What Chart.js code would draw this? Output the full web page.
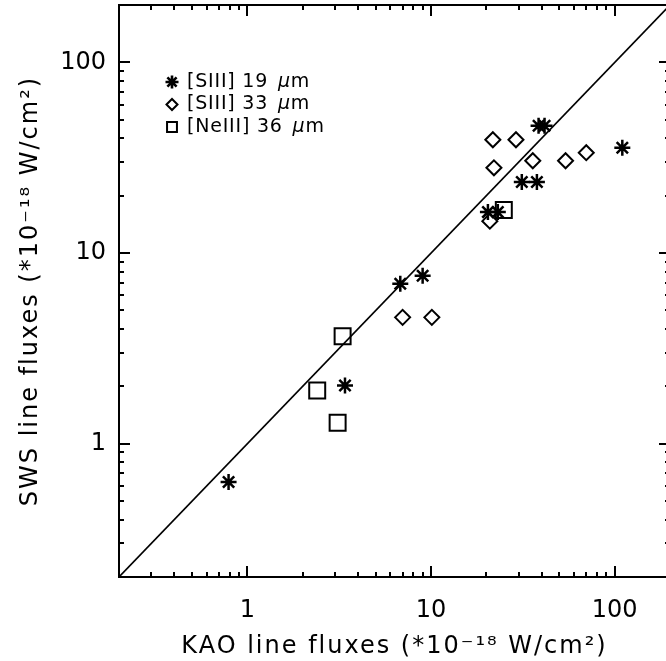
<!DOCTYPE html>
<html>
<head>
<meta charset="utf-8">
<script src="https://cdn.jsdelivr.net/npm/chart.js@4.4.1/dist/chart.umd.min.js"></script>
<style>
  html, body { margin: 0; padding: 0; background: #fff; overflow: hidden; }
  #fluxChart { display: block; }
</style>
</head>
<body>
<canvas id="fluxChart" width="680" height="661"></canvas>
<script>
// --- DATA ---
const siii19X = [0.79, 3.4, 6.8, 9.0, 20.4, 23.1, 31.2, 37.7, 110, 38.5, 41.5];
const siii19Y = [0.63, 2.02, 6.9, 7.6, 16.4, 16.4, 23.6, 23.6, 35.7, 46.5, 46.5];

const siii33X = [7.0, 10.1, 20.9, 22.0, 21.7, 29.0, 35.8, 54.0, 70.0];
const siii33Y = [4.6, 4.6, 14.7, 28.0, 39.3, 39.3, 30.5, 30.5, 33.6];

const neiii36X = [2.4, 3.1, 3.3, 24.9];
const neiii36Y = [1.9, 1.29, 3.66, 16.8];

const seriesLabels = ['[SIII] 19 μm', '[SIII] 33 μm', '[NeIII] 36 μm'];

const axisMin = 0.2;
const axisMax = 200;
const majorTicks = [1, 10, 100];
const minorTicks = [0.2, 0.3, 0.4, 0.5, 0.6, 0.7, 0.8, 0.9,
                    2, 3, 4, 5, 6, 7, 8, 9,
                    20, 30, 40, 50, 60, 70, 80, 90, 200];

const xTitle = 'KAO line fluxes (*10⁻¹⁸ W/cm²)';
const yTitle = 'SWS line fluxes (*10⁻¹⁸ W/cm²)';
// --- END DATA ---

const FONT = 'DejaVu Sans';
const toPoints = (xs, ys) => xs.map((x, i) => ({ x: x, y: ys[i] }));

// IDL style box: ticks inside on all four sides
const boxTicks = {
    id: 'boxTicks',
    afterDatasetsDraw(chart) {
        const ctx = chart.ctx;
        const a = chart.chartArea;
        const xs = chart.scales.x, ys = chart.scales.y;
        ctx.save();
        ctx.strokeStyle = '#000';
        ctx.lineWidth = 2;
        ctx.lineCap = 'butt';
        const mark = (vals, len) => {
            vals.forEach(v => {
                const px = Math.round(xs.getPixelForValue(v));
                const py = Math.round(ys.getPixelForValue(v));
                ctx.beginPath();
                ctx.moveTo(px, a.bottom); ctx.lineTo(px, a.bottom - len);
                ctx.moveTo(px, a.top); ctx.lineTo(px, a.top + len);
                ctx.moveTo(a.left, py); ctx.lineTo(a.left + len, py);
                ctx.moveTo(a.right, py); ctx.lineTo(a.right - len, py);
                ctx.stroke();
            });
        };
        mark(majorTicks, 11);
        mark(minorTicks.filter(v => v > axisMin && v < axisMax), 5);
        ctx.strokeRect(a.left, a.top, a.right - a.left, a.bottom - a.top);
        ctx.restore();
    }
};

// wider letter spacing on the axis titles, like the IDL font
const spacedTitles = {
    id: 'spacedTitles',
    afterLayout(chart) {
        Object.values(chart.scales).forEach(s => {
            if (s._spaced) return;
            const orig = s.drawTitle.bind(s);
            s.drawTitle = function () {
                const prev = this.ctx.letterSpacing;
                this.ctx.letterSpacing = '2px';
                orig();
                this.ctx.letterSpacing = prev || '0px';
            };
            s._spaced = true;
        });
    }
};

// legend drawn inside the plot, upper left
const innerLegend = {
    id: 'innerLegend',
    afterDraw(chart) {
        const ctx = chart.ctx;
        const a = chart.chartArea;
        const sizes = [6.5, 5.5, 7];
        const widths = [2.6, 2, 2];
        ctx.save();
        chart.data.datasets.forEach((ds, i) => {
            if (!ds.label) return;
            const y = a.top + 77 + i * 22.5;
            const x = a.left + 53;
            ctx.strokeStyle = '#000';
            ctx.fillStyle = 'rgba(0,0,0,0)';
            ctx.lineWidth = widths[i];
            Chart.helpers.drawPoint(ctx, {
                pointStyle: ds.pointStyle, radius: sizes[i], rotation: 0, borderWidth: widths[i]
            }, x, y);
            const parts = ds.label.split('μ');
            ctx.fillStyle = '#000';
            ctx.textBaseline = 'middle';
            ctx.letterSpacing = '0.8px';
            ctx.font = '19px "' + FONT + '"';
            let tx = x + 15;
            ctx.fillText(parts[0], tx, y);
            tx += ctx.measureText(parts[0]).width + 3;
            ctx.font = 'italic 19px "' + FONT + '"';
            ctx.fillText('μ', tx, y);
            tx += ctx.measureText('μ').width;
            ctx.font = '19px "' + FONT + '"';
            ctx.fillText(parts[1], tx, y);
        });
        ctx.restore();
    }
};

const logAxis = (pos, title, tickPad, titlePad) => ({
    type: 'logarithmic',
    position: pos,
    min: axisMin,
    max: axisMax,
    grid: { display: false },
    border: { display: false },
    afterBuildTicks: (axis) => { axis.ticks = majorTicks.map(v => ({ value: v })); },
    ticks: {
        autoSkip: false,
        maxRotation: 0,
        color: '#000',
        padding: tickPad,
        font: { family: FONT, size: 24 },
        callback: (v) => String(v)
    },
    title: {
        display: true,
        text: title,
        color: '#000',
        font: { family: FONT, size: 24 },
        padding: { top: titlePad, bottom: 0 }
    }
});

const xAxis = logAxis('bottom', xTitle, 11, 18);
xAxis.afterFit = (axis) => {
    axis.height = 84;
    axis.paddingLeft = 0; axis.paddingRight = 0;
};
const yAxis = logAxis('left', yTitle, 5, 16);
yAxis.afterFit = (axis) => {
    axis.width = 119;
    axis.paddingTop = 0; axis.paddingBottom = 0;
};

new Chart(document.getElementById('fluxChart'), {
    type: 'scatter',
    data: {
        datasets: [
            {
                label: seriesLabels[0],
                data: toPoints(siii19X, siii19Y),
                pointStyle: 'star',
                pointRadius: 8,
                borderColor: '#000',
                backgroundColor: 'rgba(0,0,0,0)',
                borderWidth: 2.5
            },
            {
                label: seriesLabels[1],
                data: toPoints(siii33X, siii33Y),
                pointStyle: 'rectRot',
                pointRadius: 7.5,
                borderColor: '#000',
                backgroundColor: 'rgba(0,0,0,0)',
                borderWidth: 2
            },
            {
                label: seriesLabels[2],
                data: toPoints(neiii36X, neiii36Y),
                pointStyle: 'rect',
                pointRadius: 11.3,
                borderColor: '#000',
                backgroundColor: 'rgba(0,0,0,0)',
                borderWidth: 2
            },
            {
                type: 'line',
                label: '',
                data: [{ x: axisMin, y: axisMin }, { x: axisMax, y: axisMax }],
                borderColor: '#000',
                borderWidth: 1.6,
                pointRadius: 0,
                fill: false
            }
        ]
    },
    options: {
        responsive: false,
        devicePixelRatio: 1,
        animation: false,
        layout: { autoPadding: false, padding: { top: 5, right: 10, left: 0, bottom: 0 } },
        plugins: {
            legend: { display: false },
            tooltip: { enabled: false }
        },
        scales: { x: xAxis, y: yAxis }
    },
    plugins: [boxTicks, spacedTitles, innerLegend]
});
</script>
</body>
</html>
